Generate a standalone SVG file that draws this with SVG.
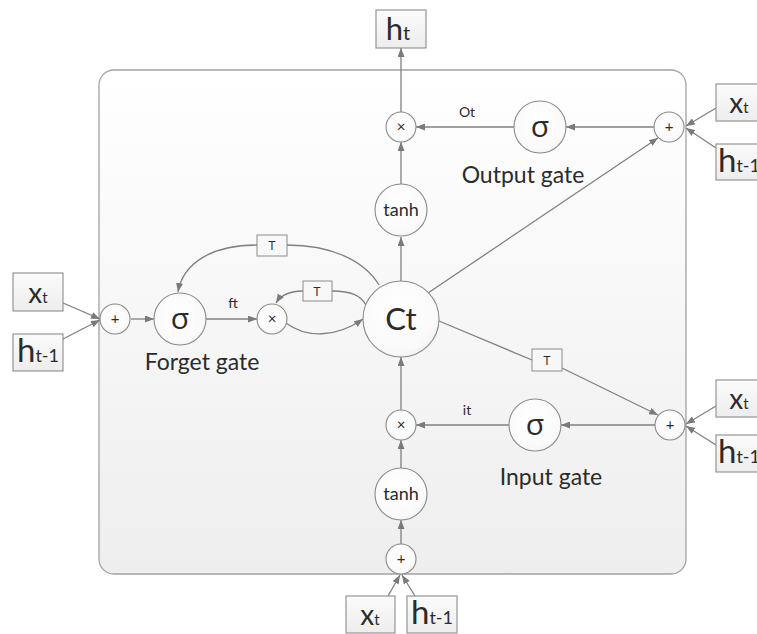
<svg xmlns="http://www.w3.org/2000/svg" width="757" height="634" viewBox="0 0 757 634">
  <defs>
    <linearGradient id="cellFill" x1="0" y1="0" x2="0" y2="1">
      <stop offset="0" stop-color="#ffffff"/>
      <stop offset="1" stop-color="#eeeeee"/>
    </linearGradient>
    <linearGradient id="boxFill" x1="0" y1="0" x2="0" y2="1">
      <stop offset="0" stop-color="#fbfbfb"/>
      <stop offset="1" stop-color="#ededed"/>
    </linearGradient>
    <radialGradient id="nodeFill" cx="0.45" cy="0.4" r="0.65">
      <stop offset="0" stop-color="#ffffff"/>
      <stop offset="0.8" stop-color="#fafafa"/>
      <stop offset="1" stop-color="#efefef"/>
    </radialGradient>
    <marker id="arrow" viewBox="0 0 9 7" refX="9" refY="3.5" markerWidth="9" markerHeight="7" markerUnits="userSpaceOnUse" orient="auto">
      <path d="M0,0 L9,3.5 L0,7 z" fill="#7a7a7a"/>
    </marker>
  </defs>
  <style>
    .cell { fill: url(#cellFill); stroke: #a3a3a3; stroke-width: 1.3; }
    .node { fill: url(#nodeFill); stroke: #8a8a8a; stroke-width: 1.1; }
    .box { fill: url(#boxFill); stroke: #8c8c8c; stroke-width: 1.1; }
    .tbox { fill: #f8f8f8; stroke: #8c8c8c; stroke-width: 1; }
    .wire { fill: none; stroke: #808080; stroke-width: 1.3; }
    .arr { marker-end: url(#arrow); }
    text { font-family: Lato, "Liberation Sans", sans-serif; fill: #2b2b2b; text-anchor: middle; }
    .op { font-size: 15px; }
    .sig { font-family: "Open Sans", "DejaVu Sans", sans-serif; font-size: 30px; }
    .fn { font-size: 18px; }
    .gate { font-size: 23px; }
    .lbl { font-size: 14px; }
    .tt { font-size: 12px; font-family: "Liberation Sans", sans-serif; }
    .big { font-size: 33px; }
    .sub { font-size: 18px; }
    .xv { font-size: 28px; }
    .xs { font-size: 15px; }
  </style>

  <!-- LSTM cell body -->
  <rect id="cell" class="cell" x="99" y="70" width="587" height="504" rx="15" ry="15"/>

  <!-- connectors -->
  <g id="connectors">
    <!-- forget gate inputs -->
    <line class="wire arr" x1="63" y1="303" x2="100" y2="319"/>
    <line class="wire arr" x1="63" y1="339" x2="100" y2="320"/>
    <line class="wire arr" x1="131" y1="319" x2="154" y2="319"/>
    <line class="wire arr" x1="206" y1="319" x2="257" y2="319"/>
    <path class="wire arr" d="M286,323 C306,338 336,338 363,319"/>
    <!-- peephole feedback from Ct -->
    <path class="wire" d="M379,285 C364,260 330,245 287,245"/>
    <path class="wire arr" d="M257,245 C212,245 183,263 178,292"/>
    <path class="wire" d="M366,305 C361,296 352,291 332,291"/>
    <path class="wire arr" d="M303,291 C290,291 281,295 276,303"/>
    <!-- cell to output -->
    <line class="wire arr" x1="401" y1="281" x2="401" y2="237"/>
    <line class="wire arr" x1="401" y1="184" x2="401" y2="142"/>
    <line class="wire arr" x1="401" y1="112" x2="401" y2="48"/>
    <line class="wire arr" x1="428" y1="293" x2="658" y2="138"/>
    <!-- output gate -->
    <line class="wire arr" x1="654" y1="127" x2="566" y2="127"/>
    <line class="wire arr" x1="514" y1="127" x2="416" y2="127"/>
    <line class="wire arr" x1="716" y1="108" x2="686" y2="126"/>
    <line class="wire arr" x1="716" y1="148" x2="686" y2="128"/>
    <!-- cell to input gate via T -->
    <line class="wire" x1="439" y1="321" x2="532" y2="360"/>
    <line class="wire arr" x1="562" y1="368" x2="658" y2="415"/>
    <!-- input gate -->
    <line class="wire arr" x1="655" y1="425" x2="561" y2="425"/>
    <line class="wire arr" x1="509" y1="425" x2="416" y2="425"/>
    <line class="wire arr" x1="716" y1="406" x2="686" y2="424"/>
    <line class="wire arr" x1="716" y1="445" x2="686" y2="426"/>
    <!-- candidate path -->
    <line class="wire arr" x1="401" y1="544" x2="401" y2="520"/>
    <line class="wire arr" x1="401" y1="468" x2="401" y2="440"/>
    <line class="wire arr" x1="401" y1="410" x2="401" y2="357"/>
    <line class="wire arr" x1="388" y1="596" x2="400" y2="575"/>
    <line class="wire arr" x1="415" y1="596" x2="402" y2="575"/>
  </g>

  <!-- forget gate -->
  <g id="forget-in-x"><rect class="box" x="13" y="273" width="50" height="38"/><text x="38" y="303"><tspan class="xv">x</tspan><tspan class="xs">t</tspan></text></g>
  <g id="forget-in-h"><rect class="box" x="13" y="334" width="50" height="37"/><text x="38" y="362"><tspan class="big">h</tspan><tspan class="sub">t-1</tspan></text></g>
  <g id="forget-sum"><circle class="node" cx="115" cy="319" r="15"/><text class="op" x="115" y="324">+</text></g>
  <g id="forget-sigma"><circle class="node" cx="180" cy="319" r="26"/><text class="sig" x="180" y="329">σ</text></g>
  <g id="forget-label"><text class="gate" x="202" y="370">Forget gate</text></g>
  <g id="ft-label"><text class="lbl" x="233" y="308">ft</text></g>
  <g id="forget-mul"><circle class="node" cx="272" cy="319" r="15"/><text class="op" x="272" y="324">×</text></g>
  <g id="t-forget"><rect class="tbox" x="257" y="235" width="30" height="21"/><text class="tt" x="272" y="250">T</text></g>
  <g id="t-cell"><rect class="tbox" x="303" y="281" width="29" height="20"/><text class="tt" x="317" y="296">T</text></g>

  <!-- cell state -->
  <g id="cell-state"><circle class="node" cx="401" cy="319" r="38"/><text x="401" y="330" style="font-size:31px">Ct</text></g>

  <!-- output gate -->
  <g id="tanh-out"><circle class="node" cx="401" cy="210" r="26"/><text class="fn" x="401" y="216">tanh</text></g>
  <g id="out-mul"><circle class="node" cx="401" cy="127" r="15"/><text class="op" x="401" y="132">×</text></g>
  <g id="h-out"><rect class="box" x="376" y="10" width="50" height="38"/><text x="398" y="40"><tspan style="font-size:31px">h</tspan><tspan style="font-size:20px">t</tspan></text></g>
  <g id="ot-label"><text class="lbl" x="467" y="117">Ot</text></g>
  <g id="out-sigma"><circle class="node" cx="540" cy="127" r="26"/><text class="sig" x="540" y="137">σ</text></g>
  <g id="out-sum"><circle class="node" cx="669" cy="127" r="15"/><text class="op" x="669" y="132">+</text></g>
  <g id="out-label"><text class="gate" x="523" y="183">Output gate</text></g>
  <g id="out-in-x"><rect class="box" x="716" y="84" width="50" height="37"/><text x="739" y="113"><tspan class="xv">x</tspan><tspan class="xs">t</tspan></text></g>
  <g id="out-in-h"><rect class="box" x="716" y="144" width="50" height="36"/><text x="739" y="172"><tspan class="big">h</tspan><tspan class="sub">t-1</tspan></text></g>

  <!-- input gate -->
  <g id="t-input"><rect class="tbox" x="532" y="349" width="30" height="22"/><text class="tt" x="547" y="365">T</text></g>
  <g id="in-sum"><circle class="node" cx="670" cy="425" r="15"/><text class="op" x="670" y="430">+</text></g>
  <g id="in-sigma"><circle class="node" cx="535" cy="425" r="26"/><text class="sig" x="535" y="435">σ</text></g>
  <g id="it-label"><text class="lbl" x="467" y="415">it</text></g>
  <g id="in-mul"><circle class="node" cx="401" cy="425" r="15"/><text class="op" x="401" y="430">×</text></g>
  <g id="in-label"><text class="gate" x="551" y="485">Input gate</text></g>
  <g id="in-in-x"><rect class="box" x="716" y="380" width="50" height="37"/><text x="739" y="409"><tspan class="xv">x</tspan><tspan class="xs">t</tspan></text></g>
  <g id="in-in-h"><rect class="box" x="716" y="435" width="50" height="37"/><text x="739" y="463"><tspan class="big">h</tspan><tspan class="sub">t-1</tspan></text></g>

  <!-- candidate -->
  <g id="tanh-in"><circle class="node" cx="401" cy="494" r="26"/><text class="fn" x="401" y="500">tanh</text></g>
  <g id="cand-sum"><circle class="node" cx="401" cy="559" r="15"/><text class="op" x="401" y="564">+</text></g>
  <g id="cand-in-x"><rect class="box" x="346" y="596" width="49" height="37"/><text x="370" y="625"><tspan class="xv">x</tspan><tspan class="xs">t</tspan></text></g>
  <g id="cand-in-h"><rect class="box" x="407" y="596" width="50" height="37"/><text x="432" y="624"><tspan class="big">h</tspan><tspan class="sub">t-1</tspan></text></g>
</svg>
